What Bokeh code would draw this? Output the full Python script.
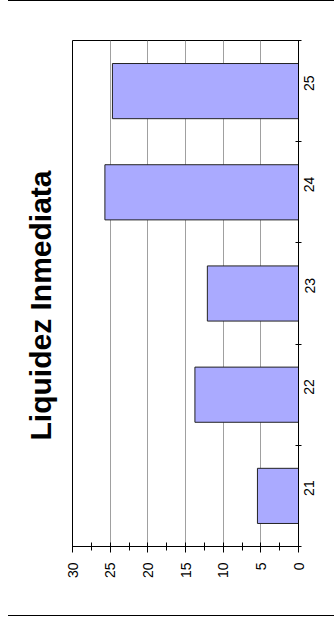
import math
from bokeh.plotting import figure
from bokeh.models import Range1d, FixedTicker, Div, Column
from bokeh.embed import file_html
from bokeh.resources import INLINE

categories = ["21", "22", "23", "24", "25"]
values = [5.45, 13.75, 12.1, 25.7, 24.7]
value_ticks = [0, 5, 10, 15, 20, 25, 30]
title_text = "Liquidez Inmediata"

FONT = "Liberation Sans"

ys = [i + 0.5 for i in range(len(categories))]

p = figure(
    frame_width=226, frame_height=506,
    min_border_left=72, min_border_right=28, min_border_top=39, min_border_bottom=69,
    x_range=Range1d(30, 0), y_range=Range1d(0, len(categories)),
    x_axis_location="below", y_axis_location="right",
    title=title_text, title_location="left",
    output_backend="svg", toolbar_location=None,
)

p.title.text_font = FONT
p.title.text_font_size = "30px"
p.title.text_font_style = "bold"
p.title.align = "left"
p.title.vertical_align = "top"
p.title.text_color = "black"
p.title.standoff = 28
p.title.offset = 106

p.hbar(y=ys, left=0, right=values, height=0.545,
       fill_color="#aaaaff", line_color="#222222", line_width=1)

p.outline_line_color = "black"
p.outline_line_alpha = 1.0
p.background_fill_color = "white"
p.border_fill_color = "white"

# value axis (bottom)
xa = p.xaxis[0]
xa.ticker = FixedTicker(ticks=value_ticks,
                        minor_ticks=[v + 2.5 for v in value_ticks[:-1]])
xa.axis_line_color = "black"
xa.major_tick_line_color = "black"
xa.minor_tick_line_color = "black"
xa.major_tick_in = 4
xa.major_tick_out = 6
xa.minor_tick_in = 4
xa.minor_tick_out = 4
xa.major_label_orientation = math.pi / 2
xa.major_label_standoff = 10
xa.major_label_text_font = FONT
xa.major_label_text_font_size = "14px"
xa.major_label_text_color = "black"

# category axis (right)
ya = p.yaxis[0]
ya.ticker = FixedTicker(ticks=ys, minor_ticks=list(range(len(categories) + 1)))
ya.major_label_overrides = {y: c for y, c in zip(ys, categories)}
ya.axis_line_color = "black"
ya.major_tick_line_color = None
ya.minor_tick_line_color = "black"
ya.minor_tick_in = 3
ya.minor_tick_out = 3
ya.major_label_orientation = math.pi / 2
ya.major_label_standoff = 5
ya.major_label_text_font = FONT
ya.major_label_text_font_size = "14px"
ya.major_label_text_color = "black"

p.xgrid.grid_line_color = "#a0a0a0"
p.xgrid.grid_line_width = 1
p.ygrid.grid_line_color = None

top_line = Div(text="", width=326, height=1, margin=(0, 0, 0, 8),
               styles={"background-color": "black", "overflow": "hidden"})
bottom_line = Div(text="", width=326, height=1, margin=(0, 0, 0, 8),
                  styles={"background-color": "black", "overflow": "hidden"})

layout = Column(children=[top_line, p, bottom_line], spacing=0)

open("out.html", "w").write(file_html(layout, INLINE))
